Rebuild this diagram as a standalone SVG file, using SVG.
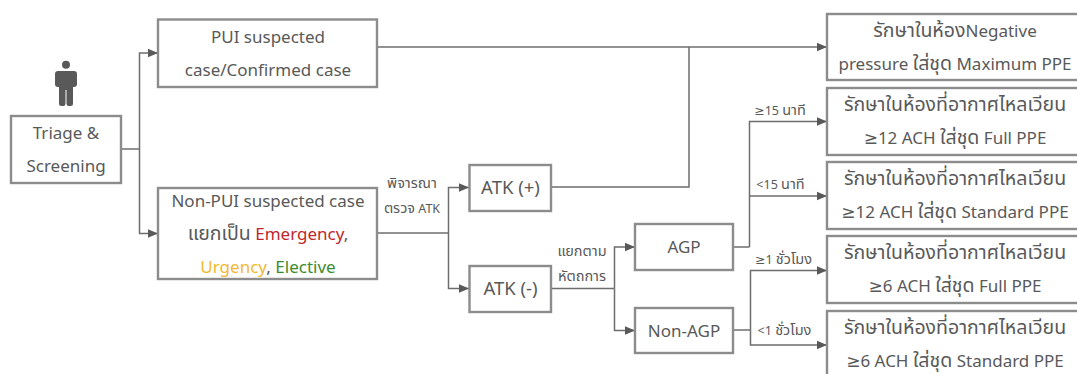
<svg xmlns="http://www.w3.org/2000/svg" width="1077" height="374" viewBox="0 0 1077 374">
<defs>
<marker id="arr" markerUnits="userSpaceOnUse" markerWidth="11" markerHeight="10" refX="10.5" refY="5" orient="auto"><path d="M0,0.5 L10.5,5 L0,9.5 Z" fill="#595959"/></marker>
</defs>
<style>
.b{fill:#fff;stroke:#8c8c8c;stroke-width:2.4}
.c{fill:none;stroke:#6e6e6e;stroke-width:1.5}
.a{marker-end:url(#arr)}
text{font-family:"Noto Sans","Noto Sans Thai","DejaVu Sans",sans-serif;fill:#595959;text-anchor:middle}
.t{font-size:17px}
.s{font-size:12.5px}
.h{font-size:19.5px}
.k{font-size:14.5px}
.m{font-size:18.5px}
</style>
<rect width="1077" height="374" fill="#fff"/>
<g id="connectors">
<path class="c" d="M121,149H139.5"/>
<path class="c a" d="M139.5,149V53H158"/>
<path class="c a" d="M139.5,149V233.500H158"/>
<path class="c a" d="M377,47H827"/>
<path class="c" d="M551,187H689V47"/>
<path class="c" d="M377,233H448.500"/>
<path class="c a" d="M448.500,233V187.500H469"/>
<path class="c a" d="M448.500,233V288.500H469"/>
<path class="c" d="M551,288.500H614.500"/>
<path class="c a" d="M614.500,288.500V247H635"/>
<path class="c a" d="M614.500,288.500V330.500H635"/>
<path class="c" d="M733,247H749.500"/>
<path class="c a" d="M749.500,247V121.500H827"/>
<path class="c a" d="M749.500,196H827"/>
<path class="c" d="M733,330H750.500"/>
<path class="c a" d="M750.500,330V270.500H827"/>
<path class="c a" d="M750.500,330V345H827"/>
</g>
<g id="person" fill="#595959">
<circle cx="66" cy="64.700" r="4"/>
<path d="M58,71H74Q77,71 77,74V84Q77,87 74,87H73V103.500Q73,106 70.500,106H68.500Q66.500,106 66.500,103.500V90H65.500V103.500Q65.500,106 63.500,106H61.500Q59,106 59,103.500V87H58Q55,87 55,84V74Q55,71 58,71Z"/>
</g>
<g id="triage"><rect class="b" x="11" y="116" width="110" height="67"/><text class="t" x="66" y="139">Triage &amp;</text><text class="t" x="66" y="172">Screening</text></g>
<g id="pui"><rect class="b" x="158" y="19.500" width="219" height="67.500"/><text class="t" x="268" y="43">PUI suspected</text><text class="t" x="268" y="76">case/Confirmed case</text></g>
<g id="nonpui"><rect class="b" x="158" y="188" width="219" height="91"/><text class="t" x="268" y="207">Non-PUI suspected case</text><text class="t" x="268" y="240"><tspan class="h">แยกเป็น</tspan> <tspan fill="#c0272d">Emergency</tspan>,</text><text class="t" x="268" y="273"><tspan fill="#f2b931">Urgency</tspan>, <tspan fill="#3d8b2f">Elective</tspan></text></g>
<g id="atkpos"><rect class="b" x="469.500" y="165" width="81.500" height="46"/><text class="m" x="510.500" y="194">ATK (+)</text></g>
<g id="atkneg"><rect class="b" x="469.500" y="266" width="81.500" height="46"/><text class="m" x="510.500" y="295">ATK (-)</text></g>
<g id="agp"><rect class="b" x="635" y="224" width="98" height="46"/><text class="t" x="684" y="253">AGP</text></g>
<g id="nonagp"><rect class="b" x="635" y="308" width="98" height="45"/><text class="t" x="684" y="337">Non-AGP</text></g>
<g id="r1"><rect class="b" x="827" y="14" width="260" height="66"/><text class="t" x="955" y="37"><tspan class="h">รักษาในห้อง</tspan>Negative</text><text class="t" x="955" y="70">pressure <tspan class="h">ใส่ชุด</tspan> Maximum PPE</text></g>
<g id="r2"><rect class="b" x="827" y="88" width="260" height="67"/><text class="h" x="955" y="111">รักษาในห้องที่อากาศไหลเวียน</text><text class="t" x="955" y="144">≥12 ACH <tspan class="h">ใส่ชุด</tspan> Full PPE</text></g>
<g id="r3"><rect class="b" x="827" y="162" width="260" height="67"/><text class="h" x="955" y="185">รักษาในห้องที่อากาศไหลเวียน</text><text class="t" x="955" y="218">≥12 ACH <tspan class="h">ใส่ชุด</tspan> Standard PPE</text></g>
<g id="r4"><rect class="b" x="827" y="236" width="260" height="67"/><text class="h" x="955" y="259">รักษาในห้องที่อากาศไหลเวียน</text><text class="t" x="955" y="292">≥6 ACH <tspan class="h">ใส่ชุด</tspan> Full PPE</text></g>
<g id="r5"><rect class="b" x="827" y="311" width="260" height="80"/><text class="h" x="955" y="334">รักษาในห้องที่อากาศไหลเวียน</text><text class="t" x="955" y="367">≥6 ACH <tspan class="h">ใส่ชุด</tspan> Standard PPE</text></g>
<g id="labels">
<text class="k" x="412" y="188">พิจารณา</text>
<text class="s" x="412" y="213"><tspan class="k">ตรวจ</tspan> ATK</text>
<text class="k" x="582" y="256">แยกตาม</text>
<text class="k" x="582" y="281">หัตถการ</text>
<text class="s" x="780" y="115">≥15 <tspan class="k">นาที</tspan></text>
<text class="s" x="780.500" y="189">&lt;15 <tspan class="k">นาที</tspan></text>
<text class="s" x="783.500" y="264">≥1 <tspan class="k">ชั่วโมง</tspan></text>
<text class="s" x="784.500" y="335">&lt;1 <tspan class="k">ชั่วโมง</tspan></text>
</g>
</svg>
